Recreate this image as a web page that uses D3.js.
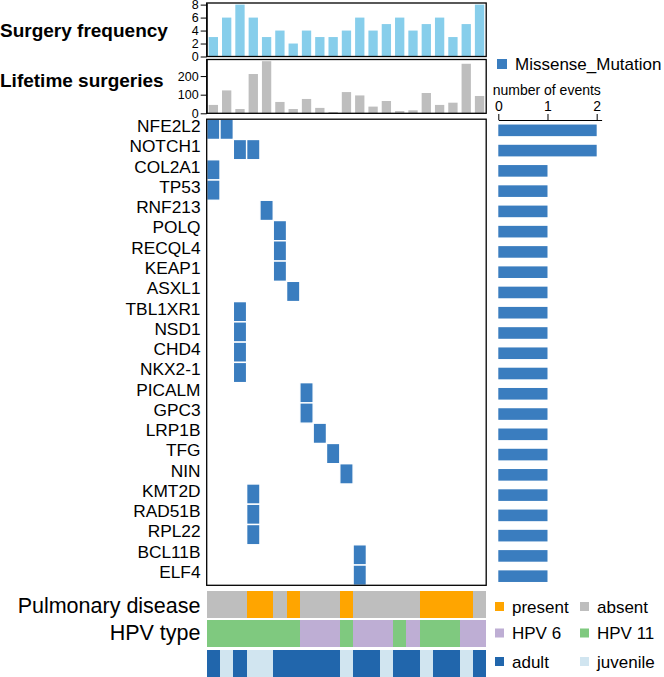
<!DOCTYPE html>
<html>
<head>
<meta charset="utf-8">
<script src="https://cdn.jsdelivr.net/npm/d3@7"></script>
<style>
body { margin: 0; background: #fff; }
text { font-family: "Liberation Sans", Arial, sans-serif; fill: #000; }
</style>
</head>
<body>
<div id="chart"></div>
<script>
// Data
const samples = d3.range(21);
const surgeryFrequency = [3, 6, 8, 6, 3, 4, 2, 4, 3, 3, 4, 6, 4, 5, 6, 4, 5, 6, 3, 5, 8];
const lifetimeSurgeries = [45, 123, 23, 211, 280, 61, 23, 77, 29, 7, 114, 96, 36, 66, 12, 16, 109, 45, 57, 266, 93];
const genes = ['NFE2L2', 'NOTCH1', 'COL2A1', 'TP53', 'RNF213', 'POLQ', 'RECQL4', 'KEAP1', 'ASXL1',
    'TBL1XR1', 'NSD1', 'CHD4', 'NKX2-1', 'PICALM', 'GPC3', 'LRP1B', 'TFG', 'NIN', 'KMT2D',
    'RAD51B', 'RPL22', 'BCL11B', 'ELF4'];
// [gene, sample index] for each missense mutation
const mutations = [
    ['NFE2L2', 0], ['NFE2L2', 1], ['NOTCH1', 2], ['NOTCH1', 3], ['COL2A1', 0], ['TP53', 0],
    ['RNF213', 4], ['POLQ', 5], ['RECQL4', 5], ['KEAP1', 5], ['ASXL1', 6], ['TBL1XR1', 2],
    ['NSD1', 2], ['CHD4', 2], ['NKX2-1', 2], ['PICALM', 7], ['GPC3', 7], ['LRP1B', 8],
    ['TFG', 9], ['NIN', 10], ['KMT2D', 3], ['RAD51B', 3], ['RPL22', 3], ['BCL11B', 11], ['ELF4', 11]
];
const pulmonaryDisease = ['absent', 'absent', 'absent', 'present', 'present', 'absent', 'present',
    'absent', 'absent', 'absent', 'present', 'absent', 'absent', 'absent', 'absent', 'absent',
    'present', 'present', 'present', 'present', 'absent'];
const hpvType = ['HPV 11', 'HPV 11', 'HPV 11', 'HPV 11', 'HPV 11', 'HPV 11', 'HPV 11', 'HPV 6',
    'HPV 6', 'HPV 6', 'HPV 11', 'HPV 6', 'HPV 6', 'HPV 6', 'HPV 11', 'HPV 6', 'HPV 11', 'HPV 11',
    'HPV 11', 'HPV 6', 'HPV 6'];
const ageGroup = ['adult', 'juvenile', 'adult', 'juvenile', 'juvenile', 'adult', 'adult', 'adult',
    'adult', 'adult', 'juvenile', 'adult', 'adult', 'juvenile', 'adult', 'adult', 'juvenile',
    'adult', 'adult', 'juvenile', 'adult'];

const eventCounts = genes.map(g => mutations.filter(m => m[0] === g).length);

const pulmonaryColor = d3.scaleOrdinal(['present', 'absent'], ['#FFA500', '#BEBEBE']);
const hpvColor = d3.scaleOrdinal(['HPV 6', 'HPV 11'], ['#BEAED4', '#7FC97F']);
const ageColor = d3.scaleOrdinal(['adult', 'juvenile'], ['#2166AC', '#D1E5F0']);
const mutColor = '#3A7DBF';

const width = 664, height = 677;
const svg = d3.select('#chart').append('svg')
    .attr('width', width)
    .attr('height', height);

// Scales
const x = d3.scaleBand().domain(samples).range([206.7, 486.2]);
const xBar = d3.scaleBand().domain(samples).range([206.7, 486.2]).paddingInner(0.3).paddingOuter(0.15);
const yFreq = d3.scaleLinear().domain([0, 8.25]).range([56.5, 3]);
const yLife = d3.scaleLinear().domain([0, 289]).range([113.3, 59.5]);
const yRow = d3.scaleBand().domain(genes).range([119.2, 585.3]);
const xEv = d3.scaleLinear().domain([0, 2.1]).range([498.3, 601.6]);

// Surgery frequency panel
svg.append('g').selectAll('rect')
    .data(surgeryFrequency)
    .join('rect')
    .attr('x', (d, i) => xBar(i))
    .attr('width', xBar.bandwidth())
    .attr('y', d => yFreq(d))
    .attr('height', d => yFreq(0) - yFreq(d))
    .attr('fill', '#87CEEB');

svg.append('rect')
    .attr('x', 206.7).attr('y', 3)
    .attr('width', 486.2 - 206.7).attr('height', 56.5 - 3)
    .attr('fill', 'none').attr('stroke', '#000').attr('stroke-width', 1.3);

const freqAxis = svg.append('g')
    .attr('transform', 'translate(206.7,0)')
    .call(d3.axisLeft(yFreq).tickValues([0, 2, 4, 6, 8]).tickSize(6).tickPadding(2).tickSizeOuter(0));

// Lifetime surgeries panel
svg.append('g').selectAll('rect')
    .data(lifetimeSurgeries)
    .join('rect')
    .attr('x', (d, i) => xBar(i))
    .attr('width', xBar.bandwidth())
    .attr('y', d => yLife(d))
    .attr('height', d => yLife(0) - yLife(d))
    .attr('fill', '#BEBEBE');

svg.append('rect')
    .attr('x', 206.7).attr('y', 59.5)
    .attr('width', 486.2 - 206.7).attr('height', 113.3 - 59.5)
    .attr('fill', 'none').attr('stroke', '#000').attr('stroke-width', 1.3);

const lifeAxis = svg.append('g')
    .attr('transform', 'translate(206.7,0)')
    .call(d3.axisLeft(yLife).tickValues([0, 100, 200]).tickSize(6).tickPadding(2).tickSizeOuter(0));

[freqAxis, lifeAxis].forEach(a => {
    a.selectAll('text').style('font-size', '12.5px').style('font-family', '"Liberation Sans", Arial, sans-serif');
    a.selectAll('line').attr('stroke', '#000');
    a.select('.domain').attr('stroke', '#000');
});

svg.append('text')
    .attr('x', 0).attr('y', 37.3)
    .style('font-size', '19px').style('font-weight', 'bold')
    .text('Surgery frequency');

svg.append('text')
    .attr('x', 0).attr('y', 87.3)
    .style('font-size', '19px').style('font-weight', 'bold')
    .text('Lifetime surgeries');

// Mutation matrix
svg.append('g').selectAll('rect')
    .data(mutations)
    .join('rect')
    .attr('x', d => x(d[1]))
    .attr('y', d => yRow(d[0]))
    .attr('width', x.bandwidth())
    .attr('height', yRow.bandwidth())
    .attr('fill', mutColor)
    .attr('stroke', '#fff')
    .attr('stroke-width', 1.4);

svg.append('rect')
    .attr('x', 206.7).attr('y', 119.2)
    .attr('width', 486.2 - 206.7).attr('height', 585.3 - 119.2)
    .attr('fill', 'none').attr('stroke', '#000').attr('stroke-width', 1.3);

svg.append('g').selectAll('text')
    .data(genes)
    .join('text')
    .attr('x', 200.5)
    .attr('y', d => yRow(d) + yRow.bandwidth() / 2 + 2.8)
    .attr('text-anchor', 'end')
    .style('font-size', '17.3px')
    .text(d => d);

// Number of events bars
svg.append('g').selectAll('rect')
    .data(genes)
    .join('rect')
    .attr('x', xEv(0))
    .attr('y', (d, i) => yRow(d) + yRow.bandwidth() / 2 - 5.8 + 1)
    .attr('width', (d, i) => xEv(eventCounts[i]) - xEv(0))
    .attr('height', 11.6)
    .attr('fill', mutColor);

const evAxis = svg.append('g')
    .attr('transform', 'translate(0,120)')
    .call(d3.axisTop(xEv).tickValues([0, 1, 2]).tickFormat(d3.format('d'))
        .tickSize(6).tickPadding(3).tickSizeOuter(0));
evAxis.selectAll('text').style('font-size', '14px').style('font-family', '"Liberation Sans", Arial, sans-serif');
evAxis.selectAll('line').attr('stroke', '#000');
evAxis.select('.domain').attr('stroke', '#000');

svg.append('text')
    .attr('x', 492.7).attr('y', 94.5)
    .style('font-size', '14px')
    .text('number of events');

// Missense legend
svg.append('rect')
    .attr('x', 497).attr('y', 59).attr('width', 10).attr('height', 10)
    .attr('fill', mutColor);
svg.append('text')
    .attr('x', 515).attr('y', 70)
    .style('font-size', '17px')
    .text('Missense_Mutation');

// Annotation tracks
const tracks = [
    { values: pulmonaryDisease, color: pulmonaryColor, y0: 590.7, y1: 617.7, label: 'Pulmonary disease', base: 612.5 },
    { values: hpvType, color: hpvColor, y0: 620, y1: 647, label: 'HPV type', base: 639.5 },
    { values: ageGroup, color: ageColor, y0: 649.5, y1: 677, label: null }
];

tracks.forEach(t => {
    svg.append('g').selectAll('rect')
        .data(t.values)
        .join('rect')
        .attr('x', (d, i) => x(i))
        .attr('width', (d, i) => i === samples.length - 1 ? x.bandwidth() : x.bandwidth() + 0.8)
        .attr('y', t.y0)
        .attr('height', t.y1 - t.y0)
        .attr('fill', d => t.color(d))
        .attr('shape-rendering', 'crispEdges');
    if (t.label) {
        svg.append('text')
            .attr('x', 200.5).attr('y', t.base)
            .attr('text-anchor', 'end')
            .style('font-size', '21.5px')
            .text(t.label);
    }
});

// Annotation legends
const legendRows = [
    { y: 606.5, items: [['present', pulmonaryColor('present')], ['absent', pulmonaryColor('absent')]] },
    { y: 633, items: [['HPV 6', hpvColor('HPV 6')], ['HPV 11', hpvColor('HPV 11')]] },
    { y: 661.5, items: [['adult', ageColor('adult')], ['juvenile', ageColor('juvenile')]] }
];
const legendX = [495, 580];

legendRows.forEach(row => {
    row.items.forEach((item, j) => {
        svg.append('rect')
            .attr('x', legendX[j]).attr('y', row.y - 4.5)
            .attr('width', 9).attr('height', 9)
            .attr('fill', item[1]);
        svg.append('text')
            .attr('x', legendX[j] + 17).attr('y', row.y + 6)
            .style('font-size', '17px')
            .text(item[0]);
    });
});
</script>
</body>
</html>
